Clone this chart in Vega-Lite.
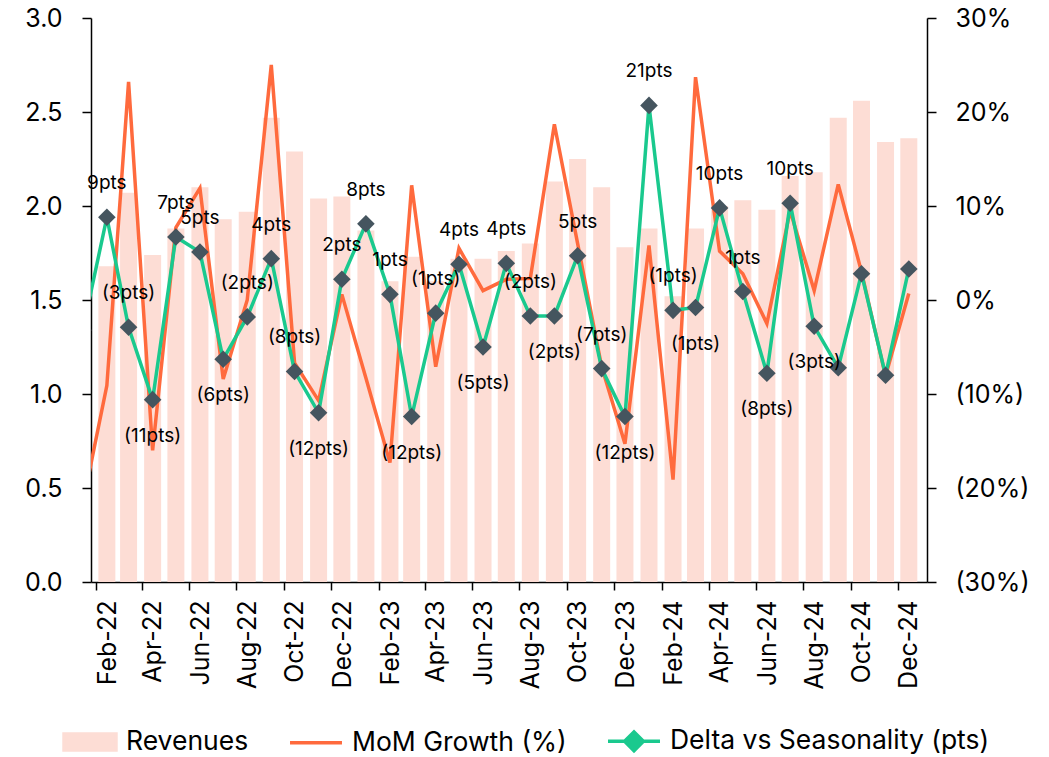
{
  "$schema": "https://vega.github.io/schema/vega-lite/v6.json",
  "width": 836,
  "height": 564,
  "autosize": {"type": "none"},
  "padding": {"left": 91, "top": 18, "right": 122, "bottom": 175},
  "background": "white",
  "config": {
    "font": "Inter",
    "view": {"stroke": null},
    "axis": {"grid": false, "domainColor": "black", "tickColor": "black", "labelColor": "black", "labelFont": "Inter", "domainWidth": 1.5, "tickWidth": 1.5, "title": null, "labelFontSize": 25},
    "legend": {
      "orient": "none", "legendX": -29, "legendY": 695, "direction": "horizontal", "title": null,
      "labelFontSize": 26.5, "labelFont": "Inter", "labelColor": "black", "labelLimit": 600,
      "symbolSize": 2700, "symbolStrokeWidth": 3.5, "columnPadding": 34, "labelOffset": 8,
      "padding": 0
    }
  },
  "data": {"values": [
    {"month": "2022-01-15", "revenue": null, "mom": -21.7, "delta": -3.2, "label": "", "pos": "above"},
    {"month": "2022-02-15", "revenue": 1.68, "mom": -9.1, "delta": 8.8, "label": "9pts", "pos": "above"},
    {"month": "2022-03-15", "revenue": 2.07, "mom": 23.2, "delta": -2.9, "label": "(3pts)", "pos": "above"},
    {"month": "2022-04-15", "revenue": 1.74, "mom": -16.0, "delta": -10.6, "label": "(11pts)", "pos": "below"},
    {"month": "2022-05-15", "revenue": 1.88, "mom": 7.7, "delta": 6.7, "label": "7pts", "pos": "above"},
    {"month": "2022-06-15", "revenue": 2.10, "mom": 11.9, "delta": 5.1, "label": "5pts", "pos": "above"},
    {"month": "2022-07-15", "revenue": 1.93, "mom": -8.4, "delta": -6.3, "label": "(6pts)", "pos": "below"},
    {"month": "2022-08-15", "revenue": 1.97, "mom": 0.0, "delta": -1.8, "label": "(2pts)", "pos": "above"},
    {"month": "2022-09-15", "revenue": 2.47, "mom": 25.0, "delta": 4.4, "label": "4pts", "pos": "above"},
    {"month": "2022-10-15", "revenue": 2.29, "mom": -6.7, "delta": -7.6, "label": "(8pts)", "pos": "above"},
    {"month": "2022-11-15", "revenue": 2.04, "mom": -10.7, "delta": -12.0, "label": "(12pts)", "pos": "below"},
    {"month": "2022-12-15", "revenue": 2.05, "mom": 0.6, "delta": 2.2, "label": "2pts", "pos": "above"},
    {"month": "2023-01-15", "revenue": 1.87, "mom": -8.3, "delta": 8.1, "label": "8pts", "pos": "above"},
    {"month": "2023-02-15", "revenue": 1.60, "mom": -17.3, "delta": 0.6, "label": "1pts", "pos": "above"},
    {"month": "2023-03-15", "revenue": 1.73, "mom": 12.2, "delta": -12.4, "label": "(12pts)", "pos": "below"},
    {"month": "2023-04-15", "revenue": 1.60, "mom": -7.1, "delta": -1.4, "label": "(1pts)", "pos": "above"},
    {"month": "2023-05-15", "revenue": 1.72, "mom": 5.5, "delta": 3.8, "label": "4pts", "pos": "above"},
    {"month": "2023-06-15", "revenue": 1.72, "mom": 1.0, "delta": -5.0, "label": "(5pts)", "pos": "below"},
    {"month": "2023-07-15", "revenue": 1.76, "mom": 2.2, "delta": 3.9, "label": "4pts", "pos": "above"},
    {"month": "2023-08-15", "revenue": 1.80, "mom": 2.3, "delta": -1.7, "label": "(2pts)", "pos": "above"},
    {"month": "2023-09-15", "revenue": 2.13, "mom": 18.7, "delta": -1.7, "label": "(2pts)", "pos": "below"},
    {"month": "2023-10-15", "revenue": 2.25, "mom": 6.0, "delta": 4.7, "label": "5pts", "pos": "above"},
    {"month": "2023-11-15", "revenue": 2.10, "mom": -7.1, "delta": -7.3, "label": "(7pts)", "pos": "above"},
    {"month": "2023-12-15", "revenue": 1.78, "mom": -15.3, "delta": -12.4, "label": "(12pts)", "pos": "below"},
    {"month": "2024-01-15", "revenue": 1.88, "mom": 5.8, "delta": 20.7, "label": "21pts", "pos": "above"},
    {"month": "2024-02-15", "revenue": 1.52, "mom": -19.1, "delta": -1.1, "label": "(1pts)", "pos": "above"},
    {"month": "2024-03-15", "revenue": 1.88, "mom": 23.7, "delta": -0.8, "label": "(1pts)", "pos": "below"},
    {"month": "2024-04-15", "revenue": 2.00, "mom": 5.2, "delta": 9.8, "label": "10pts", "pos": "above"},
    {"month": "2024-05-15", "revenue": 2.03, "mom": 2.8, "delta": 0.9, "label": "1pts", "pos": "above"},
    {"month": "2024-06-15", "revenue": 1.98, "mom": -2.5, "delta": -7.8, "label": "(8pts)", "pos": "below"},
    {"month": "2024-07-15", "revenue": 2.16, "mom": 9.5, "delta": 10.3, "label": "10pts", "pos": "above"},
    {"month": "2024-08-15", "revenue": 2.18, "mom": 1.0, "delta": -2.8, "label": "(3pts)", "pos": "below"},
    {"month": "2024-09-15", "revenue": 2.47, "mom": 12.3, "delta": -7.2, "label": "", "pos": "above"},
    {"month": "2024-10-15", "revenue": 2.56, "mom": 3.0, "delta": 2.8, "label": "", "pos": "above"},
    {"month": "2024-11-15", "revenue": 2.34, "mom": -8.1, "delta": -8.0, "label": "", "pos": "above"},
    {"month": "2024-12-15", "revenue": 2.36, "mom": 0.7, "delta": 3.3, "label": "", "pos": "above"}
  ]},
  "encoding": {
    "x": {
      "field": "month", "type": "temporal", "title": null,
      "scale": {"type": "utc", "domain": [{"year": 2022, "month": 2, "date": 1, "utc": true}, {"year": 2025, "month": 1, "date": 1, "utc": true}]},
      "axis": {
        "values": [
          {"year": 2022, "month": 2, "date": 1, "utc": true}, {"year": 2022, "month": 4, "date": 1, "utc": true},
          {"year": 2022, "month": 6, "date": 1, "utc": true}, {"year": 2022, "month": 8, "date": 1, "utc": true},
          {"year": 2022, "month": 10, "date": 1, "utc": true}, {"year": 2022, "month": 12, "date": 1, "utc": true},
          {"year": 2023, "month": 2, "date": 1, "utc": true}, {"year": 2023, "month": 4, "date": 1, "utc": true},
          {"year": 2023, "month": 6, "date": 1, "utc": true}, {"year": 2023, "month": 8, "date": 1, "utc": true},
          {"year": 2023, "month": 10, "date": 1, "utc": true}, {"year": 2023, "month": 12, "date": 1, "utc": true},
          {"year": 2024, "month": 2, "date": 1, "utc": true}, {"year": 2024, "month": 4, "date": 1, "utc": true},
          {"year": 2024, "month": 6, "date": 1, "utc": true}, {"year": 2024, "month": 8, "date": 1, "utc": true},
          {"year": 2024, "month": 10, "date": 1, "utc": true}, {"year": 2024, "month": 12, "date": 1, "utc": true}
        ],
        "labelExpr": "utcFormat(datum.value, '%b-%y')",
        "labelAngle": 270, "labelOffset": 11, "labelPadding": 10, "tickSize": 8,
        "labelOverlap": false, "labelFontSize": 25
      }
    }
  },
  "layer": [
    {
      "transform": [{"filter": "datum.revenue != null"}],
      "mark": {"type": "bar", "width": 17, "clip": true},
      "encoding": {
        "y": {
          "field": "revenue", "type": "quantitative",
          "scale": {"domain": [0, 3]},
          "axis": {"orient": "left", "values": [0, 0.5, 1, 1.5, 2, 2.5, 3], "format": ".1f", "tickSize": 9, "labelPadding": 20}
        },
        "color": {
          "datum": "Revenues", "type": "nominal", "title": null,
          "scale": {"domain": ["Revenues", "mom", "delta"], "range": ["#FDDDD5", "#FF6A3D", "#1AC98E"]},
          "legend": {
            "title": null,
            "labelExpr": "datum.label == 'mom' ? 'MoM Growth (%)' : datum.label == 'delta' ? 'Delta vs Seasonality (pts)' : datum.label",
            "encode": {
              "symbols": {
                "update": {
                  "shape": {"signal": "datum.value == 'Revenues' ? 'M-1,-0.31H1V0.31H-1Z' : datum.value == 'mom' ? 'M-1,0H1' : 'M-1,0H-0.3M0.3,0H1M-0.36,0L0,-0.36L0.36,0L0,0.36Z'"},
                  "fill": {"signal": "datum.value == 'Revenues' ? '#FDDDD5' : datum.value == 'mom' ? 'transparent' : '#45555F'"},
                  "stroke": {"signal": "datum.value == 'Revenues' ? 'transparent' : datum.value == 'mom' ? '#FF6A3D' : '#1AC98E'"},
                  "opacity": {"value": 1}
                }
              }
            }
          }
        }
      }
    },
    {
      "transform": [{"fold": ["mom", "delta"], "as": ["key", "val"]}],
      "encoding": {
        "y": {
          "field": "val", "type": "quantitative",
          "scale": {"domain": [-30, 30]},
          "axis": {"orient": "right", "values": [-30, -20, -10, 0, 10, 20, 30], "tickSize": 9, "labelPadding": 19,
                   "labelExpr": "datum.value < 0 ? '(' + abs(datum.value) + '%)' : datum.value + '%'"}
        }
      },
      "layer": [
        {
          "transform": [{"filter": "datum.key == 'mom'"}],
          "mark": {"type": "line", "clip": true, "strokeWidth": 3.5},
          "encoding": {"color": {"field": "key", "type": "nominal", "title": null}}
        },
        {
          "transform": [{"filter": "datum.key == 'delta'"}],
          "mark": {"type": "line", "clip": true, "strokeWidth": 3.5},
          "encoding": {"color": {"field": "key", "type": "nominal", "title": null}}
        },
        {
          "transform": [{"filter": "datum.key == 'delta'"}],
          "mark": {"type": "point", "shape": "diamond", "filled": true, "size": 310, "color": "#45555F", "opacity": 1, "clip": true},
          "encoding": {}
        },
        {
          "transform": [{"filter": "datum.key == 'delta' && datum.pos == 'above' && datum.label != ''"}],
          "mark": {"type": "text", "dy": -34, "fontSize": 19, "font": "Inter", "color": "black", "baseline": "middle"},
          "encoding": {"text": {"field": "label"}}
        },
        {
          "transform": [{"filter": "datum.key == 'delta' && datum.pos == 'below' && datum.label != ''"}],
          "mark": {"type": "text", "dy": 36, "fontSize": 19, "font": "Inter", "color": "black", "baseline": "middle"},
          "encoding": {"text": {"field": "label"}}
        }
      ]
    }
  ],
  "resolve": {"scale": {"y": "independent"}}
}
